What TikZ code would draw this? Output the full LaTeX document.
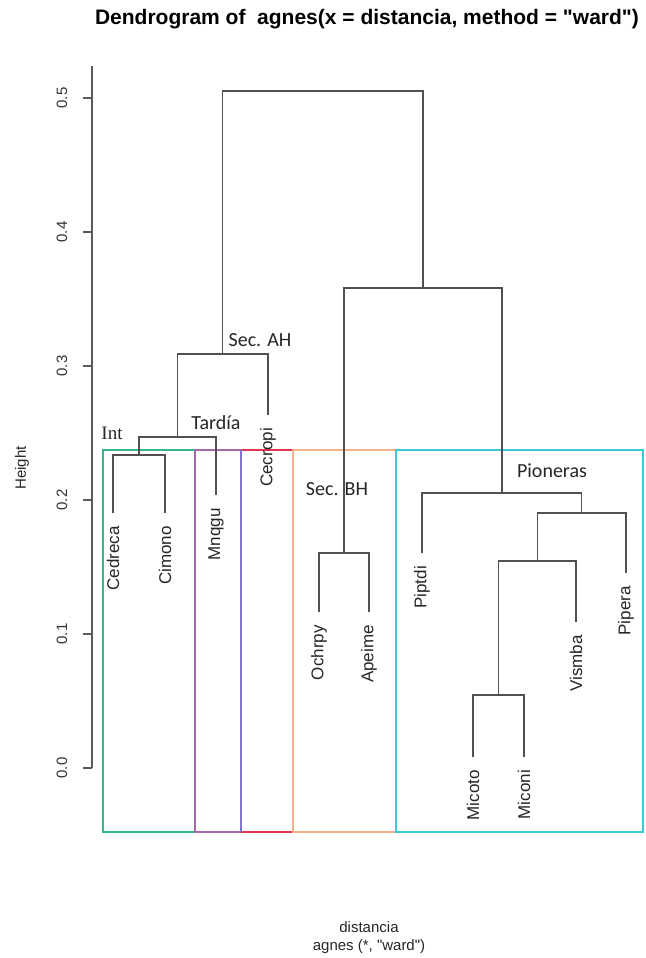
\documentclass[tikz,border=0pt]{standalone}
\usepackage{fontspec}
\setmainfont{Liberation Sans}
% plain family: straight quotes stay straight
\newfontfamily\rfont{Liberation Sans}
\newfontfamily\notefont{Carlito}
\newfontfamily\intfont{Liberation Serif}

\definecolor{dendgray}{RGB}{80,80,80}
\definecolor{axisgray}{RGB}{90,90,90}
\definecolor{boxgreen}{RGB}{52,184,140}
\definecolor{boxmauve}{RGB}{165,105,170}
\definecolor{boxviolet}{RGB}{130,115,205}
\definecolor{boxred}{RGB}{228,52,84}
\definecolor{boxorange}{RGB}{242,178,136}
\definecolor{boxcyan}{RGB}{58,200,215}

\begin{document}
\begin{tikzpicture}[x=1pt, y=-1pt,
  dend/.style={draw=dendgray, line width=1.4pt},
  axisline/.style={draw=axisgray, line width=1.2pt},
  group/.style={line width=2pt},
  leaf/.style={rotate=90, anchor=east, inner sep=0pt, text=black!85,
    font=\rfont\fontsize{17}{20}\selectfont},
  ticklabel/.style={rotate=90, inner sep=0pt, text=black!80,
    font=\rfont\fontsize{15}{18}\selectfont},
  note/.style={inner sep=0pt, text=black!85, font=\notefont\fontsize{20}{24}\selectfont},
  axislabel/.style={inner sep=0pt, text=black!85, font=\rfont\fontsize{15}{18}\selectfont}]

\useasboundingbox[fill=white] (0,0) rectangle (645,958);

% title
\node[inner sep=0pt, font=\rfont\bfseries\fontsize{21}{25}\selectfont] (title) at (367,19)
  {Dendrogram of\ \ agnes(x = distancia, method = "ward")};

% group boxes
\draw[group, draw=boxgreen]  (103,450) rectangle (195,832);
\draw[group, draw=boxred]    (241,450) rectangle (293,832);
\draw[group, draw=boxorange] (293,450) rectangle (396,832);
\draw[group, draw=boxcyan]   (396,450) rectangle (643,832);
\draw[group, draw=boxmauve]  (241,450) -- (195,450) -- (195,832) -- (241,832);
\draw[group, draw=boxviolet] (241,450) -- (241,832);

% y axis
\draw[axisline] (92,66) -- (92,768);
\foreach \h/\lab in {0/0.0, 1/0.1, 2/0.2, 3/0.3, 4/0.4, 5/0.5} {
  \draw[axisline] (83,{768-134*\h}) -- (92,{768-134*\h});
  \node[ticklabel] (tick\h) at (62,{768-134*\h}) {\lab};
}
\node[axislabel, rotate=90] (ylab) at (22,468) {Height};

% x axis caption
\node[axislabel] (xlab1) at (369,927) {distancia};
\node[axislabel] (xlab2) at (369,947) {agnes (*, "ward")};

% leaf ends
\coordinate (cedreca) at (113,513);
\coordinate (cimono)  at (165,513);
\coordinate (mnqgu)   at (216,495);
\coordinate (cecropi) at (268,415);
\coordinate (ochrpy)  at (319,612);
\coordinate (apeime)  at (369,612);
\coordinate (piptdi)  at (422,553);
\coordinate (micoto)  at (473,757);
\coordinate (miconi)  at (524,757);
\coordinate (vismba)  at (576,622);
\coordinate (pipera)  at (626,573);

% merge points
\coordinate (m1) at (139,455);
\coordinate (m2) at (177.5,437);
\coordinate (m3) at (222.5,354);
\coordinate (m4) at (344,553);
\coordinate (m5) at (498.5,695);
\coordinate (m6) at (537.25,561);
\coordinate (m7) at (581.6,513);
\coordinate (m8) at (501.8,493);
\coordinate (m9) at (422.9,288);
\coordinate (root) at (322.7,91);

% dendrogram
\draw[dend] (cedreca) |- (m1) -| (cimono);
\draw[dend] (m1) |- (m2) -| (mnqgu);
\draw[dend] (m2) |- (m3) -| (cecropi);
\draw[dend] (ochrpy) |- (m4) -| (apeime);
\draw[dend] (micoto) |- (m5) -| (miconi);
\draw[dend] (m5) |- (m6) -| (vismba);
\draw[dend] (m6) |- (m7) -| (pipera);
\draw[dend] (piptdi) |- (m8) -| (m7);
\draw[dend] (m4) |- (m9) -| (m8);
\draw[dend] (m3) |- (root) -| (m9);

% leaf labels
\node[leaf] (lcedreca) at ([yshift=-13pt]cedreca) {Cedreca};
\node[leaf] (lcimono)  at ([yshift=-13pt]cimono)  {Cimono};
\node[leaf] (lmnqgu)   at ([yshift=-13pt]mnqgu)   {Mnqgu};
\node[leaf] (lcecropi) at ([yshift=-13pt]cecropi) {Cecropi};
\node[leaf] (lochrpy)  at ([yshift=-13pt]ochrpy)  {Ochrpy};
\node[leaf] (lapeime)  at ([yshift=-13pt]apeime)  {Apeime};
\node[leaf] (lpiptdi)  at ([yshift=-13pt]piptdi)  {Piptdi};
\node[leaf] (lmicoto)  at ([yshift=-13pt]micoto)  {Micoto};
\node[leaf] (lmiconi)  at ([yshift=-13pt]miconi)  {Miconi};
\node[leaf] (lvismba)  at ([yshift=-13pt]vismba)  {Vismba};
\node[leaf] (lpipera)  at ([yshift=-13pt]pipera)  {Pipera};

% group names
\node[note] (secah)    at (260,340) {Sec. AH};
\node[note] (tardia)   at (216,423) {Tardía};
\node[inner sep=0pt, text=black!85, font=\intfont\fontsize{19}{22}\selectfont] (int) at (112,433) {Int};
\node[note] (secbh)    at (337,489) {Sec. BH};
\node[note] (pioneras) at (552,471) {Pioneras};
\end{tikzpicture}
\end{document}
